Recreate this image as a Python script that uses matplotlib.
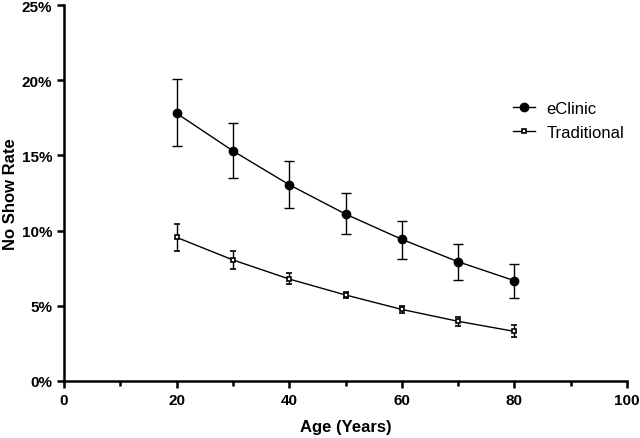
import matplotlib
matplotlib.use("Agg")
import matplotlib.pyplot as plt
import numpy as np
from matplotlib.lines import Line2D
from matplotlib.ticker import FuncFormatter, MultipleLocator

plt.rcParams['font.family'] = ['Liberation Sans', 'DejaVu Sans']

ages = [20, 30, 40, 50, 60, 70, 80]

eclinic = [17.8, 15.3, 13.05, 11.1, 9.42, 7.93, 6.67]
eclinic_lo = [15.6, 13.5, 11.52, 9.75, 8.13, 6.74, 5.54]
eclinic_hi = [20.1, 17.15, 14.63, 12.48, 10.66, 9.13, 7.8]

trad = [9.55, 8.05, 6.78, 5.72, 4.76, 3.97, 3.3]
trad_lo = [8.64, 7.47, 6.45, 5.5, 4.55, 3.66, 2.94]
trad_hi = [10.46, 8.64, 7.16, 5.95, 4.97, 4.28, 3.7]


def err(vals, lo, hi):
    v = np.array(vals)
    return [v - np.array(lo), np.array(hi) - v]


fig = plt.figure(figsize=(6.4, 4.39), dpi=100)
ax = fig.add_axes([64 / 640, 57 / 439, 563 / 640, 376 / 439])

ax.errorbar(ages, eclinic, yerr=err(eclinic, eclinic_lo, eclinic_hi), color='black',
            marker='o', markersize=6, linewidth=1, elinewidth=1, capsize=3.5, capthick=1)
ax.errorbar(ages, trad, yerr=err(trad, trad_lo, trad_hi), color='black',
            marker='s', markersize=3.5, mfc='white', mec='black', mew=1.2,
            linewidth=1, elinewidth=1, capsize=2.5, capthick=1)

ax.set_xlim(0, 100)
ax.set_ylim(0, 25)
ax.xaxis.set_major_locator(MultipleLocator(20))
ax.xaxis.set_minor_locator(MultipleLocator(10))
ax.yaxis.set_major_locator(MultipleLocator(5))
ax.yaxis.set_major_formatter(FuncFormatter(lambda v, p: f"{v:.0f}%"))

for s in ['top', 'right']:
    ax.spines[s].set_visible(False)
for s in ['left', 'bottom']:
    ax.spines[s].set_linewidth(1.8)
ax.tick_params(which='major', direction='out', length=5, width=1.8, labelsize=11)
ax.tick_params(which='minor', direction='out', length=3.5, width=1.8)
for lab in ax.get_xticklabels() + ax.get_yticklabels():
    lab.set_fontweight('bold')

ax.set_xlabel('Age (Years)', fontsize=12, fontweight='bold', labelpad=9)
ax.set_ylabel('No Show Rate', fontsize=12, fontweight='bold')
ax.yaxis.set_label_coords(-0.082, 0.5)

handles = [
    Line2D([], [], color='black', marker='o', markersize=6, linewidth=1),
    Line2D([], [], color='black', marker='s', markersize=3.5, mfc='white',
           mec='black', mew=1.2, linewidth=1),
]
ax.legend(handles, ['eClinic', 'Traditional'], loc='upper left',
          bbox_to_anchor=(0.771, 0.785), frameon=False, fontsize=12,
          handlelength=1.3, handletextpad=0.7, labelspacing=0.55)

fig.savefig('out.png', dpi=100)
